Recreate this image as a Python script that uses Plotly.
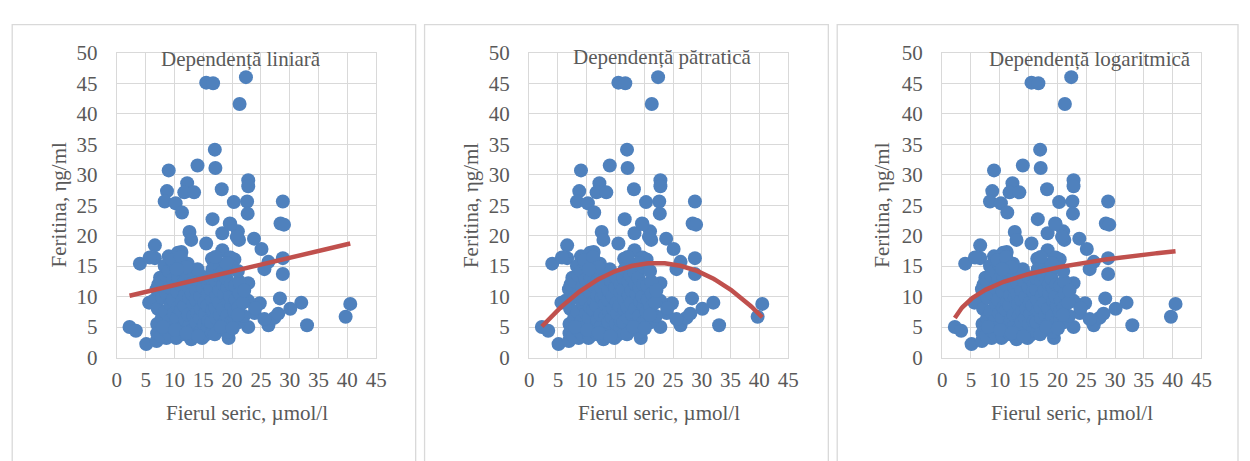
import numpy as np
import plotly.graph_objects as go

# ---------------- data ----------------
fe_outer = [15.5, 16.7, 22.4, 21.3, 17.0, 14.0, 17.1, 9.0, 12.2, 22.8, 22.8, 8.7, 11.7, 13.4, 18.2,
            8.3, 10.2, 20.3, 22.6, 28.8, 11.3, 22.7, 16.6, 28.4, 29.0, 19.6, 18.3, 21.0, 12.6, 12.9,
            21.2, 23.8, 6.6, 15.5, 25.1, 18.3, 11.2, 6.6, 9.0, 26.3, 4.0, 28.8, 20.4, 16.8, 12.3,
            25.6, 28.8, 22.8, 13.7, 7.5, 32.0, 40.5, 39.7, 33.0, 2.2, 3.3, 5.1, 28.3, 30.1, 24.8,
            22.8, 26.3, 22.8, 6.3, 19.4, 12.9, 14.8, 10.3, 8.6, 6.9, 27.3, 28.0, 23.9, 25.6, 5.6,
            10.6, 5.7, 19.7, 16.5, 20.8, 19.7, 24.0]
fer_outer = [45.1, 45.0, 46.0, 41.6, 34.1, 31.5, 31.1, 30.7, 28.6, 29.1, 28.1, 27.3, 27.1, 27.1, 27.6,
             25.6, 25.3, 25.5, 25.6, 25.6, 23.8, 23.6, 22.7, 22.0, 21.8, 22.0, 20.4, 20.7, 20.6, 19.3,
             19.3, 19.5, 18.4, 18.7, 17.8, 17.6, 17.3, 16.3, 16.6, 15.7, 15.4, 16.3, 16.1, 15.9, 15.4,
             14.5, 13.7, 12.2, 13.3, 13.1, 9.0, 8.8, 6.7, 5.3, 5.0, 4.4, 2.2, 9.7, 8.0, 8.9,
             5.0, 5.3, 9.3, 9.3, 3.2, 3.0, 3.2, 3.2, 3.2, 2.7, 6.5, 7.2, 7.3, 6.3, 9.0,
             17.2, 16.4, 16.4, 16.2, 19.8, 21.9, 8.1]

fe_core = [7.0, 7.1, 6.9, 7.2, 7.0,
           7.8, 7.9, 7.7, 7.8,
           8.5, 8.4, 8.6, 8.5, 8.3,
           9.2, 9.1, 9.3, 9.2, 9.0,
           9.8, 9.9, 9.7, 9.8, 9.9, 9.6,
           10.5, 10.4, 10.6, 10.5, 10.7,
           11.2, 11.1, 11.3, 11.2, 11.0, 11.1,
           11.8, 11.9, 11.7, 11.8, 11.9,
           12.5, 12.4, 12.6, 12.5, 12.3,
           13.2, 13.1, 13.3, 13.2, 13.0, 13.1,
           13.8, 13.9, 13.7, 13.8,
           14.5, 14.4, 14.6, 14.5, 14.3,
           15.2, 15.1, 15.3, 15.2, 15.0, 15.1,
           15.8, 15.9, 15.7, 15.8, 15.9,
           16.5, 16.4, 16.6, 16.5, 16.3, 16.4, 16.6,
           17.2, 17.1, 17.3, 17.2,
           17.8, 17.9, 17.7, 17.8, 17.6, 17.9,
           18.5, 18.4, 18.6, 18.5, 18.3,
           19.2, 19.1, 19.3, 19.2, 19.0,
           19.8, 19.9, 19.7, 19.8, 19.9,
           20.5, 20.4, 20.6, 20.5,
           21.2, 21.1, 21.3, 21.2, 21.0,
           22.0, 21.9, 22.1,
           8.0, 10.1, 12.1, 14.1, 17.0, 18.1, 20.1, 21.0, 14.0, 12.0, 10.4, 19.0, 17.1]
fer_core = [5.5, 8.0, 11.2, 12.0, 4.0,
            6.5, 9.8, 3.5, 12.5,
            4.5, 7.5, 10.5, 13.5, 15.0,
            3.8, 6.0, 8.8, 11.5, 14.2,
            5.0, 7.2, 9.5, 12.8, 15.2, 16.0,
            3.5, 6.5, 8.2, 10.8, 13.0,
            4.8, 7.8, 9.2, 11.8, 14.5, 16.5,
            3.8, 6.2, 8.5, 10.2, 12.7,
            5.2, 7.0, 9.8, 11.5, 13.8,
            3.5, 4.5, 6.8, 8.8, 10.5, 12.2,
            5.8, 7.5, 9.5, 11.0,
            4.2, 6.5, 8.0, 10.0, 12.5,
            3.6, 5.5, 7.2, 9.0, 11.5, 13.2,
            4.8, 6.0, 8.5, 10.8, 12.0,
            4.0, 5.8, 7.8, 9.5, 11.2, 13.0, 14.5,
            6.5, 8.2, 10.2, 12.5,
            4.5, 7.0, 9.0, 11.0, 13.5, 15.0,
            5.5, 8.0, 10.5, 12.0, 14.0,
            4.2, 6.8, 9.2, 11.5, 13.0,
            5.8, 8.5, 10.0, 12.0, 14.8,
            6.2, 7.5, 9.5, 11.8,
            5.8, 8.2, 10.5, 12.5, 14.2,
            6.8, 9.0, 11.0,
            5.0, 4.5, 4.0, 3.5, 3.8, 5.0, 4.8, 7.0, 14.5, 14.8, 14.5, 15.5, 16.5]

fierul_seric = fe_outer + fe_core
feritina = fer_outer + fer_core

titles = ["Dependență liniară", "Dependență pătratică", "Dependență logaritmică"]
x_title = "Fierul seric, µmol/l"
y_title = "Feritina, ηg/ml"
x_ticks = [0, 5, 10, 15, 20, 25, 30, 35, 40, 45]
y_ticks = [0, 5, 10, 15, 20, 25, 30, 35, 40, 45, 50]

# trendline coefficients
lin_coef = (9.64, 0.224)                 # a + b*x
quad_coef = (2.657, 1.1627, -0.0263)     # c0 + c1*x + c2*x^2
log_coef = (3.54, 3.75)                  # a + b*ln(x)

# ---------------- layout geometry ----------------
W, H = 1250, 461
plot_px = [(113.3, 376.0), (531.0, 793.3), (949.3, 1212.0)]
plot_top, plot_bot = 43.0, 364.5
panel_px = [(7.3, 416.0), (425.0, 834.0), (843.0, 1249.0)]
panel_top = 13.3
title_pos = [(239.5, 50.0), (666.0, 47.0), (1099.5, 50.0)]
ytitle_x = [55.0, 472.0, 889.0]

FONT = "Liberation Serif"
GRAY = "#595959"
GRID = "#d9d9d9"
BLUE = "#4f81bd"
RED = "#c0504d"

def px(v):
    return v / W

def py(v):
    return 1 - v / H

xt = np.linspace(min(fierul_seric), max(fierul_seric), 200)
trends = [
    lin_coef[0] + lin_coef[1] * xt,
    quad_coef[0] + quad_coef[1] * xt + quad_coef[2] * xt ** 2,
    log_coef[0] + log_coef[1] * np.log(xt),
]

fig = go.Figure()
layout = dict(
    width=W, height=H, margin=dict(l=0, r=0, t=0, b=0),
    paper_bgcolor="white", plot_bgcolor="white", showlegend=False,
    font=dict(family=FONT, size=21, color=GRAY),
)
shapes, annotations = [], []

for i in range(3):
    sx = "" if i == 0 else str(i + 1)
    fig.add_trace(go.Scatter(
        x=fierul_seric, y=feritina, mode="markers",
        marker=dict(size=14, color=BLUE, line=dict(width=0)),
        xaxis="x" + sx, yaxis="y" + sx, hoverinfo="skip", cliponaxis=False))
    fig.add_trace(go.Scatter(
        x=xt, y=trends[i], mode="lines",
        line=dict(color=RED, width=4.5),
        xaxis="x" + sx, yaxis="y" + sx, hoverinfo="skip"))
    x0, x1 = plot_px[i]
    layout["xaxis" + sx] = dict(
        domain=[px(x0), px(x1)], range=[0, 45], anchor="y" + sx,
        tickmode="array", tickvals=x_ticks, ticktext=[str(t) for t in x_ticks],
        showgrid=True, gridcolor=GRID, gridwidth=1.3,
        showline=True, mirror=True, linecolor=GRID, linewidth=1.3,
        zeroline=False, ticks="", ticklabelstandoff=3,
        tickfont=dict(family=FONT, size=21, color=GRAY), fixedrange=True)
    layout["yaxis" + sx] = dict(
        domain=[py(plot_bot), py(plot_top)], range=[0, 50], anchor="x" + sx,
        tickmode="array", tickvals=y_ticks, ticktext=[str(t) for t in y_ticks],
        showgrid=True, gridcolor=GRID, gridwidth=1.3,
        showline=True, mirror=True, linecolor=GRID, linewidth=1.3,
        zeroline=False, ticks="", ticklabelstandoff=14,
        tickfont=dict(family=FONT, size=21, color=GRAY), fixedrange=True)
    p0, p1 = panel_px[i]
    shapes.append(dict(type="rect", xref="paper", yref="paper",
                       x0=px(p0), x1=px(p1), y0=-0.2, y1=py(panel_top),
                       line=dict(color=GRID, width=1.3), fillcolor="rgba(0,0,0,0)",
                       layer="below"))
    tx, ty = title_pos[i]
    annotations.append(dict(text=titles[i], xref="paper", yref="paper",
                            x=px(tx), y=py(ty), xanchor="center", yanchor="middle",
                            showarrow=False, font=dict(family=FONT, size=21, color=GRAY)))
    annotations.append(dict(text=x_title, xref="paper", yref="paper",
                            x=px((x0 + x1) / 2), y=py(423), xanchor="center", yanchor="middle",
                            showarrow=False, font=dict(family=FONT, size=21, color=GRAY)))
    annotations.append(dict(text=y_title, xref="paper", yref="paper",
                            x=px(ytitle_x[i]), y=py((plot_top + plot_bot) / 2),
                            xanchor="center", yanchor="middle", textangle=-90,
                            showarrow=False, font=dict(family=FONT, size=21, color=GRAY)))

layout["shapes"] = shapes
layout["annotations"] = annotations
fig.update_layout(**layout)
fig.write_html("out.html")
